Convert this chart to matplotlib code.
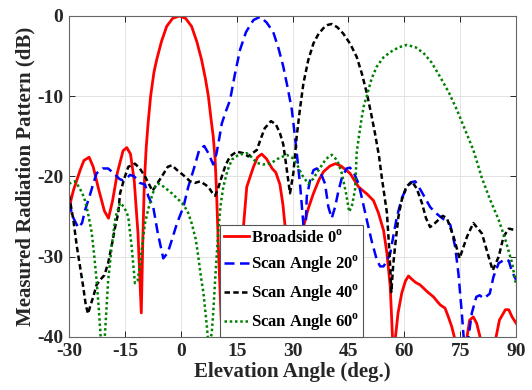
import numpy as np
import matplotlib.pyplot as plt

plt.rcParams['font.family'] = ['Liberation Serif', 'DejaVu Serif']
plt.rcParams['font.weight'] = 'bold'
plt.rcParams['mathtext.fontset'] = 'custom'
plt.rcParams['mathtext.rm'] = 'Liberation Serif'
plt.rcParams['mathtext.bf'] = 'Liberation Serif:bold'
plt.rcParams['axes.unicode_minus'] = False

# measured patterns, elevation angle (deg) vs level (dB)
broad_x = [-30, -29.5, -28.8, -27, -26, -24.6, -23.5, -22.1, -20.5, -19.4, -18.3, -17, -15.5, -14.5,
           -13.5, -12.5, -11.5, -10.6, -10.2, -9.8, -9.3, -8.8, -8.1, -7.2, -6.5, -5.2, -3.8, -2.2,
           -0.4, 1.3, 2.9, 4.3, 5.6, 6.6, 7.4, 8.1, 8.7, 9.2, 9.6, 10.1, 10.6, 11.0, 11.3, 14.0,
           15.5, 16.8, 17.7, 19.5, 20.6, 21.7, 23, 24.5, 25.5, 26.6, 27.4, 28, 29, 30.5, 31.5, 32.9,
           34.2, 35.6, 37, 38.3, 40, 41.5, 43, 45.4, 47.7, 50, 51.7, 53, 54.4, 55.3, 56.2, 56.8,
           57.2, 57.6, 58.3, 59.3, 60.3, 61.1, 62, 63, 64.2, 66, 67.8, 69.6, 70.9, 71.8, 72.7,
           73.4, 75, 76.8, 77.5, 78.5, 79.4, 80.3, 82, 84.6, 85.5, 87.1, 88, 88.9, 90]
broad_db = [-24.6, -23.0, -21.7, -19.2, -18.0, -17.6, -18.8, -21.5, -24.3, -25.2, -23.0, -19.5, -16.8,
            -16.4, -17.2, -20.5, -27.0, -37.0, -28.0, -21.0, -16.5, -13.5, -10.0, -7.0, -5.5, -3.2,
            -1.3, -0.3, 0.0, -0.3, -1.3, -3.2, -5.5, -7.8, -10.0, -12.8, -15.0, -17.8, -22.0, -29.0,
            -35.0, -39.5, -42.0, -38.0, -31.0, -26.3, -21.3, -18.8, -17.6, -17.2, -17.8, -19.0,
            -19.5, -21.0, -23.5, -26.3, -32.0, -38.0, -32.0, -26.3, -24.0, -22.1, -20.5, -19.4,
            -18.7, -18.4, -18.7, -19.6, -21.3, -22.2, -23.0, -24.5, -26.7, -29.5, -33.7, -40.0,
            -44.0, -40.0, -37.0, -34.5, -33.0, -32.4, -32.8, -33.2, -33.5, -34.3, -35.0, -36.0,
            -36.4, -37.5, -38.7, -40.0, -44.0, -40.0, -37.9, -37.5, -38.3, -40.0, -44.0, -40.0,
            -37.9, -36.6, -36.6, -37.5, -38.3]

scan20_x = [-30, -29, -27.5, -26.5, -25.7, -24.5, -23.5, -22.6, -21, -19.5, -18, -16.5, -15.5, -14.5,
            -13.6, -12.5, -11, -9.6, -8.7, -7.4, -6.2, -4.7, -3.5, -2.4, -1, 0.7, 2, 3.4, 5, 6.3,
            7.4, 8.7, 9.6, 10.3, 11, 12, 13.2, 14.5, 15.9, 17.5, 19.5, 21.3, 23, 24.8, 26.2, 27.5,
            28.7, 29.8, 30.5, 31.1, 32, 32.9, 33.3, 33.8, 34.7, 35.6, 36.5, 37.4, 38.7, 39.6, 40.5,
            41.4, 42.3, 43.2, 44.5, 45.4, 46.3, 47.7, 48.5, 49.9, 51.2, 52.6, 53.5, 54.4, 55.3,
            56.2, 57, 58, 59.3, 60.7, 62, 62.9, 64.5, 66.9, 68.3, 69.6, 71, 72.3, 73.6, 74.5, 75.4,
            75.9, 76.5, 77.2, 78.1, 79.3, 80.2, 81.3, 82.9, 83.9, 85.3, 87.1, 88, 88.9, 90]
scan20_db = [-23.2, -25.0, -26.4, -25.8, -24.2, -22.5, -20.9, -19.6, -19.0, -19.0, -19.6, -20.3, -20.5,
             -20.2, -19.8, -20.0, -20.8, -21.0, -22.5, -23.8, -27.0, -30.2, -29.5, -27.9, -25.8,
             -23.8, -21.3, -19.2, -16.6, -16.2, -17.1, -18.5, -17.1, -15.3, -13.4, -12.0, -10.5,
             -7.3, -4.2, -2.0, -0.5, -0.1, -0.8, -2.0, -4.0, -6.3, -9.0, -11.7, -14.5, -17.0, -21.0,
             -26.0, -29.0, -22.5, -20.5, -19.2, -19.0, -19.4, -20.9, -23.8, -25.2, -23.8, -21.8,
             -20.2, -19.0, -18.9, -19.4, -20.9, -22.5, -25.4, -28.0, -30.4, -31.2, -31.2, -30.5,
             -29.6, -27.5, -25.0, -22.7, -21.3, -20.7, -20.6, -21.8, -23.8, -24.5, -25.0, -25.5,
             -26.0, -28.7, -32.1, -37.0, -40.0, -43.0, -40.0, -37.0, -35.0, -34.8, -35.2, -34.6,
             -32.5, -30.8, -30.3, -30.5, -31.9, -32.9]

scan40_x = [-30, -28.8, -27.9, -26.2, -25.5, -24.9, -24.2, -23.5, -22.6, -21.5, -20.5, -19.5, -18.5,
            -17.5, -16.8, -16.3, -15.2, -14.1, -12.3, -11, -9.6, -7.6, -6.5, -5.1, -3.5, -2.4, -1,
            1.1, 2.5, 3.8, 5.2, 6.5, 7.4, 8.4, 9.2, 10, 11, 12, 13.2, 15.0, 16.8, 18.1, 19.5, 20.4,
            21.3, 22.5, 24.2, 25.5, 26.6, 27.5, 28.4, 29.3, 30.2, 31.1, 32, 32.9, 34.2, 35.6, 37,
            38.3, 39.5, 40.5, 42, 43.6, 45.5, 47.2, 48.6, 49.9, 51, 52.1, 53.2, 53.9, 55.3, 56.0,
            56.5, 57, 57.5, 58.4, 59.3, 60.5, 62, 63.3, 64.7, 65.8, 66.9, 68, 70.3, 71.4, 73.2,
            74.8, 76.8, 78.5, 80.8, 82.6, 83.7, 85.3, 86.6, 88, 90]
scan40_db = [-22.3, -25.5, -28.7, -33.7, -36.0, -37.1, -36.0, -35.0, -33.5, -32.8, -32.3, -30.8, -28.5,
             -26.0, -24.6, -22.1, -20.3, -18.8, -18.4, -19.0, -20.0, -21.8, -21.0, -20.0, -18.8,
             -18.6, -19.2, -20.0, -20.6, -20.8, -20.6, -21.0, -21.3, -22.0, -22.4, -21.5, -20.0,
             -18.6, -17.5, -16.9, -17.1, -17.5, -17.0, -16.7, -15.5, -14.0, -13.1, -13.5, -14.6,
             -16.0, -19.0, -22.1, -19.6, -15.0, -11.5, -8.4, -5.5, -3.4, -2.2, -1.5, -1.1, -1.0,
             -1.4, -2.2, -3.5, -5.1, -7.2, -9.6, -12.0, -14.6, -17.5, -20.0, -24.5, -29.5, -34.4,
             -31.0, -28.7, -25.0, -22.9, -21.3, -20.6, -21.5, -23.3, -25.2, -26.3, -25.9, -24.9,
             -25.2, -27.5, -30.2, -27.5, -25.8, -27.1, -30.0, -31.7, -30.0, -27.5, -26.5, -26.7]

scan60_x = [-30, -29.5, -28.4, -27.5, -26.5, -25.7, -24.8, -23.9, -23.2, -22.6, -22, -21.5, -21, -20.4,
            -19.5, -18.5, -17.5, -16.3, -15.2, -14.1, -13.2, -12.3, -11.6, -10.9, -10.2, -9.6, -8.7,
            -7.8, -6.9, -6.0, -4.5, -2.4, 0.3, 1.8, 2.9, 4, 4.7, 5.4, 6.1, 7.0, 7.5, 8.3, 8.7, 9.2,
            10.1, 10.7, 11.4, 12.5, 13.7, 15.5, 17.7, 19, 20.4, 22, 24, 26, 28.4, 30, 31.1, 32.5,
            34.2, 35.5, 37.4, 39, 40.5, 42, 43.2, 44.3, 45.2, 46, 46.8, 47.2, 47.8, 48.5, 49.2, 49.9,
            51.2, 52.6, 54.3, 56.2, 58.5, 60.7, 63, 65.1, 67.3, 69.6, 71.9, 74.1, 76.3, 78.5, 80.8,
            83, 85.3, 87.1, 88.9, 90]
scan60_db = [-20.9, -20.8, -20.6, -21.2, -22.0, -23.0, -24.8, -27.0, -30.0, -32.9, -36.5, -40.0, -43.0,
             -40.0, -33.0, -28.5, -25.0, -23.3, -23.8, -25.0, -28.7, -33.3, -33.0, -30.8, -28.0,
             -25.8, -24.0, -22.5, -21.3, -20.9, -21.3, -22.1, -23.3, -24.3, -25.8, -27.8, -30.0,
             -32.5, -34.6, -38.7, -41.5, -39.5, -37.0, -33.0, -26.5, -23.5, -21.3, -19.3, -17.9,
             -17.3, -17.1, -17.6, -18.3, -18.5, -18.4, -17.8, -17.3, -17.7, -18.4, -19.8, -20.9,
             -20.3, -18.9, -17.8, -17.3, -18.0, -19.6, -22.0, -24.4, -23.5, -21.5, -17.0, -15.0,
             -12.8, -11.0, -10.0, -7.8, -6.3, -5.2, -4.5, -3.9, -3.6, -3.9, -4.6, -5.8, -7.6, -9.5,
             -11.7, -14.2, -16.7, -20.2, -22.9, -25.4, -27.9, -30.8, -33.6]

labels = ['Broadside 0$^{\\mathbf{o}}$', 'Scan Angle 20$^{\\mathbf{o}}$',
          'Scan Angle 40$^{\\mathbf{o}}$', 'Scan Angle 60$^{\\mathbf{o}}$']
xticks = [-30, -15, 0, 15, 30, 45, 60, 75, 90]
yticks = [0, -10, -20, -30, -40]

fig = plt.figure(figsize=(5.32, 3.90), dpi=100)
ax = fig.add_axes([0.1297, 0.1359, 0.8406, 0.8231])

ax.plot(broad_x, broad_db, color='red', lw=2.0, label=labels[0])
ax.plot(scan20_x, scan20_db, color='blue', lw=1.8, linestyle=(0, (4, 2.2)), label=labels[1])
ax.plot(scan40_x, scan40_db, color='black', lw=1.8, linestyle=(0, (2.2, 1.3)), label=labels[2])
ax.plot(scan60_x, scan60_db, color='#008000', lw=1.8, linestyle=(0, (1, 1.1)), label=labels[3])

ax.set_xlim(-30, 90)
ax.set_ylim(-40, 0)
ax.set_xticks(xticks)
ax.set_yticks(yticks)
ax.grid(True, color='#e3e3e3', lw=0.7)
ax.set_axisbelow(True)
ax.tick_params(direction='in', length=4, width=0.7, top=True, right=True,
               labelsize=14, colors='#262626', pad=4)
for s in ax.spines.values():
    s.set_color('#666666')
    s.set_linewidth(0.8)

ax.set_xlabel('Elevation Angle (deg.)', fontsize=15, fontweight='bold', color='#262626', labelpad=2)
ax.set_ylabel('Measured Radiation Pattern (dB)', fontsize=15, fontweight='bold', color='#262626', labelpad=1)

leg = ax.legend(loc='lower left', bbox_to_anchor=(0.338, 0.0), borderaxespad=0, fancybox=False,
                framealpha=1, edgecolor='#555555', fontsize=12, handlelength=1.5,
                handletextpad=0.1, borderpad=0.25, labelspacing=0.45)
leg.get_frame().set_linewidth(0.8)

fig.savefig('out.png', dpi=100)
